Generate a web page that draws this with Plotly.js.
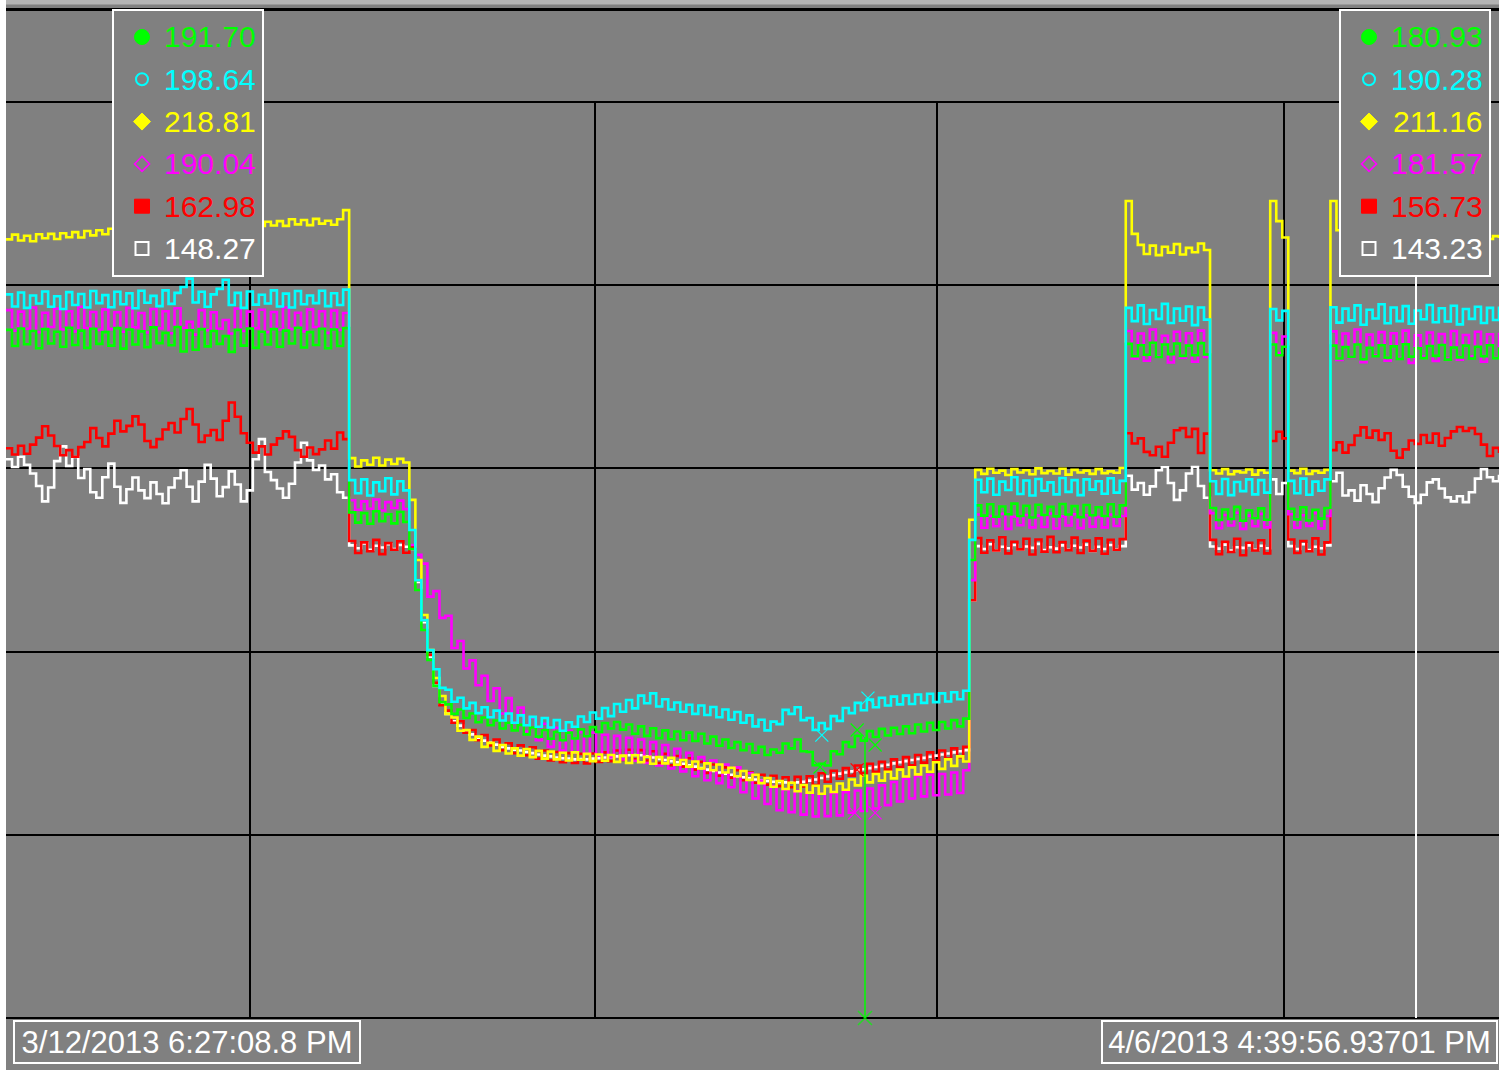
<!DOCTYPE html>
<html>
<head>
<meta charset="utf-8">
<script src="https://cdn.plot.ly/plotly-3.0.1.min.js"></script>
<style>html,body{margin:0;padding:0;background:#fff;}#chart{width:1499px;height:1070px;}</style>
</head>
<body>
<div id="chart"></div>
<script>
// ---------------- DATA ----------------
const startLabel = "3/12/2013 6:27:08.8 PM";
const endLabel = "4/6/2013 4:39:56.93701 PM";
const spanDays = 24.925557;           // time between the two labels, in days
const seriesNames = ["green", "cyan", "yellow", "magenta", "red", "white"];
const seriesColors = ["#00ff00", "#00ffff", "#ffff00", "#ff00ff", "#ff0000", "#ffffff"];
const leftCursorValues = ["191.70", "198.64", "218.81", "190.04", "162.98", "148.27"];
const rightCursorValues = ["180.93", "190.28", "211.16", "181.57", "156.73", "143.23"];
const cursorDay = 23.54;

const yellowVals = [
 212.5,213.8,212.2,213.5,212.0,213.9,212.8,214.0,212.6,214.2,213.1,214.5,213.0,214.8,213.6,215.0,213.9,215.4,214.2,215.6,
 214.5,215.8,214.6,216.0,214.9,216.2,215.0,216.1,215.2,216.4,215.4,216.5,215.5,216.6,215.6,216.8,215.8,216.9,216.0,217.0,216.0,217.1,216.2,217.3,216.3,
 217.5,216.2,218.0,216.6,217.8,216.4,218.1,216.8,217.6,216.5,218.0,220.5,
 152.8,150.5,152.2,151.0,152.9,150.8,152.4,151.2,152.6,151.6,
 141.4,125.0,110.0,100.4,92.8,87.9,83.0,82.0,78.4,78.6,75.9,76.8,74.0,75.1,72.9,74.5,72.2,73.6,71.6,73.4,71.2,72.9,70.8,72.7,70.6,72.4,70.3,72.5,70.5,72.1,70.1,71.9,70.2,71.8,
 69.9,71.6,69.6,71.7,69.8,71.3,69.4,71.2,69.5,71.0,69.1,70.4,68.6,70.0,68.1,69.5,67.6,69.2,67.0,68.3,66.0,67.4,65.0,66.4,64.1,65.5,63.1,64.7,62.5,64.2,61.9,63.6,61.5,63.4,61.2,63.3,
 61.7,64.0,62.3,65.1,63.5,66.1,64.3,66.6,64.8,67.2,65.4,67.8,65.9,68.4,66.5,68.9,67.2,69.8,68.0,70.6,68.8,71.4,70.0,
 136.0,
 149.6,148.5,149.9,148.8,149.4,148.2,149.8,148.9,149.5,148.4,150.0,148.7,149.3,148.6,149.9,148.3,149.6,148.9,149.4,148.5,149.8,148.7,149.2,148.8,150.1,
 223.0,214.0,211.0,208.5,210.8,208.2,210.5,208.9,211.2,208.4,210.2,209.0,211.4,209.6,
 149.5,148.6,149.8,148.4,149.2,148.9,149.7,148.3,149.5,148.8,
 223.0,217.5,213.0,
 149.4,148.7,149.9,148.5,149.3,148.8,149.6,
 223.0,215.0,212.5,210.2,212.0,210.4,211.8,209.9,212.2,210.6,211.5,210.1,212.0,210.8,211.3,209.8,212.1,210.5,211.9,210.0,211.6,210.7,212.3,210.4,211.2,209.9,212.6,213.4,212.9
];

const cyanVals = [
 197.5,194.2,198.0,193.8,197.2,195.0,198.3,194.1,197.0,193.5,198.1,194.6,197.6,193.9,198.4,195.1,197.3,194.0,198.2,194.8,
 197.8,193.7,198.5,195.2,197.1,194.3,198.6,194.9,197.9,199.5,201.8,195.3,198.2,194.1,197.5,199.0,201.5,194.6,197.9,193.8,
 198.3,194.7,197.4,195.0,198.6,194.2,197.7,193.9,198.4,194.8,197.2,195.1,198.5,194.3,197.8,194.6,198.8,
 146.8,143.2,147.0,142.6,146.2,143.8,147.3,142.9,146.5,144.0,
 133.2,119.5,108.6,100.4,95.2,90.1,89.6,86.3,87.4,84.5,86.0,83.2,84.8,82.1,83.9,81.2,83.1,80.6,82.6,79.9,82.2,79.5,81.9,79.3,81.3,78.4,80.7,79.5,82.3,80.8,
 83.4,81.7,84.6,82.4,85.7,83.6,86.8,84.5,88.0,85.9,88.6,85.0,87.0,84.2,86.1,83.6,85.5,83.0,85.3,82.7,84.9,82.1,84.2,81.4,83.5,80.6,82.6,79.6,81.4,78.5,
 80.9,80.2,84.1,83.0,84.8,81.3,81.9,78.6,80.5,78.9,82.4,81.1,84.6,83.2,86.0,84.0,86.9,84.8,87.4,85.3,87.7,85.6,88.0,85.7,88.3,86.0,88.5,86.2,88.6,86.4,88.9,87.0,89.3,
 130.5,
 146.9,143.5,147.2,142.8,146.4,144.1,147.6,143.0,146.7,142.6,147.1,143.9,146.2,142.9,147.4,143.6,146.8,142.7,147.0,144.2,146.5,143.1,147.3,143.4,146.6,
 193.8,190.2,194.5,189.4,193.2,190.8,194.9,189.7,193.6,190.3,194.2,189.1,193.9,190.6,
 146.5,143.0,147.1,142.7,146.3,143.8,147.0,142.9,146.8,143.4,
 193.5,190.4,193.0,
 146.6,143.2,147.2,142.8,146.4,143.9,147.0,
 194.0,189.8,193.6,190.4,194.5,189.2,193.3,190.9,194.8,189.6,193.9,190.2,194.3,189.5,193.1,190.7,194.6,189.9,193.7,190.1,194.4,189.3,193.5,190.8,194.1,189.7,193.8,190.5,194.2
];

const magentaVals = [
 193.2,187.6,192.8,188.1,193.9,187.2,192.5,188.6,193.6,187.9,192.9,187.4,194.1,188.3,192.7,187.8,193.4,188.0,192.6,187.3,
 193.8,188.5,192.4,187.1,193.5,188.2,192.9,186.9,193.7,188.4,190.0,186.5,193.2,187.7,192.6,188.1,190.5,186.8,193.6,187.5,
 192.8,188.3,193.3,187.2,192.7,187.9,193.9,188.0,192.5,187.4,193.4,188.6,192.9,187.0,193.1,187.8,192.4,
 141.3,138.7,141.0,139.0,141.5,138.5,140.8,139.2,141.2,138.9,
 129.1,126.4,124.0,115.0,116.5,109.2,109.8,101.0,102.9,95.4,97.6,90.8,93.4,86.5,90.0,83.1,87.3,80.5,84.7,78.2,82.0,75.8,80.3,74.0,79.2,73.0,78.4,72.4,78.0,72.1,
 77.9,71.6,77.3,71.2,77.0,70.6,76.5,70.2,76.0,69.6,75.3,68.9,74.5,68.1,73.5,67.3,72.4,66.0,71.2,64.9,70.3,64.1,69.2,63.0,68.4,61.6,66.8,59.9,64.8,58.4,
 63.3,56.7,62.4,56.2,62.0,55.5,61.5,55.0,61.2,55.1,61.4,55.3,61.6,56.0,62.1,56.5,62.6,57.2,63.5,58.1,64.4,59.1,65.3,59.9,66.0,60.5,66.4,60.8,66.6,61.0,67.0,61.4,67.6,
 119.5,
 137.4,133.8,137.0,134.2,137.6,133.5,136.8,134.5,137.3,133.9,137.1,134.0,137.7,133.6,136.9,134.4,137.5,133.7,137.2,134.1,136.7,133.9,137.4,134.3,137.0,
 187.5,180.0,186.8,179.4,187.9,180.6,186.2,178.9,187.3,180.2,186.9,179.1,187.6,180.4,
 137.8,133.7,137.3,134.4,137.9,133.5,137.1,134.2,137.6,133.9,
 187.0,181.5,186.0,
 137.5,133.8,137.2,134.3,137.8,133.6,137.0,
 187.4,179.6,186.8,180.3,187.9,179.0,186.5,180.8,187.2,179.4,186.9,180.1,187.6,178.8,186.3,180.5,187.1,179.3,186.7,180.0,187.5,179.7,186.4,180.6,187.3,179.1,186.6,180.2,187.0
];

const greenVals = [
 187.8,183.4,188.2,183.9,187.5,182.8,188.0,184.1,187.3,183.2,188.4,183.7,187.6,182.9,188.1,184.0,187.2,183.5,188.3,182.7,
 187.9,183.8,187.4,183.1,188.5,184.2,187.0,183.6,188.6,181.9,187.7,182.4,188.0,183.3,187.5,184.0,186.1,181.8,187.8,183.5,
 188.2,182.9,187.3,183.8,188.0,183.2,187.6,184.1,188.4,183.0,187.2,183.7,188.1,182.8,187.9,183.4,188.3,
 138.0,135.2,137.8,134.9,138.3,135.6,137.5,135.0,138.1,135.4,
 128.0,116.8,105.9,97.7,90.6,86.2,85.6,83.0,84.2,81.9,83.1,80.7,82.0,79.9,81.2,79.0,80.6,78.5,80.0,77.4,79.3,76.8,78.6,76.2,78.1,75.8,77.9,76.3,78.8,76.9,
 79.4,78.1,80.5,79.0,80.8,78.7,80.1,77.6,79.6,77.0,79.1,76.4,78.5,76.1,78.2,75.8,77.9,75.6,77.6,74.9,76.8,74.3,76.0,73.7,75.3,73.1,74.8,72.4,74.0,71.8,
 73.3,72.4,74.9,73.6,76.0,72.8,72.6,69.0,69.4,68.9,72.8,72.0,75.3,74.0,77.0,75.7,78.3,76.7,78.9,77.1,79.2,77.5,79.6,77.7,80.1,78.2,80.6,78.6,80.8,79.0,81.3,79.6,81.7,
 125.0,
 139.9,137.1,140.2,136.8,139.6,137.5,140.4,137.0,139.8,136.6,140.1,137.3,139.5,136.9,140.3,137.4,139.7,136.7,140.0,137.2,139.4,137.0,140.2,136.8,139.9,
 184.0,180.6,183.6,181.0,184.3,180.4,183.8,181.2,184.1,180.7,183.5,180.9,184.2,181.1,
 139.2,135.9,138.8,136.2,139.5,135.7,138.6,136.4,139.1,136.0,
 183.8,180.9,183.2,
 139.0,136.1,139.4,135.8,138.7,136.3,139.2,
 183.5,180.0,183.1,180.4,183.8,179.8,182.9,180.6,183.6,180.2,183.3,179.9,183.9,180.5,182.8,180.1,183.4,180.7,183.7,179.7,183.0,180.3,183.5,180.0,183.2,180.6,183.6,180.1,183.1
];

const redVals = [
 155.5,153.8,156.2,154.0,156.5,158.4,161.5,159.0,156.1,153.6,155.0,153.2,155.8,157.2,161.0,158.3,156.0,159.5,163.0,160.1,
 161.6,164.2,162.0,157.5,155.8,158.0,160.6,162.4,159.8,163.5,166.2,162.0,157.2,159.0,160.5,157.8,163.0,168.0,164.1,159.6,
 157.0,154.3,156.0,153.8,156.5,158.2,160.1,158.6,155.0,153.2,155.7,153.9,155.2,157.6,155.4,159.8,158.0,
 130.2,126.9,129.8,127.4,130.5,126.6,129.6,127.8,130.1,127.0,
 128.5,119.5,108.6,99.1,91.5,85.4,83.9,80.6,81.0,77.9,78.6,75.8,77.2,74.4,76.0,73.1,75.0,72.3,74.4,71.7,73.9,70.8,73.0,70.3,72.6,69.8,72.3,69.6,72.1,69.5,
 72.2,69.9,72.5,70.1,73.0,70.4,73.2,70.6,73.1,70.3,72.8,69.6,72.1,69.0,71.5,68.6,70.9,67.8,69.9,66.9,69.2,66.1,68.4,65.6,67.6,64.9,67.0,64.2,66.4,63.7,
 66.1,63.3,65.7,63.0,65.8,63.2,66.0,63.6,66.8,64.5,67.5,65.3,68.2,66.1,68.9,66.8,69.4,67.2,69.9,67.8,70.6,68.5,71.2,69.0,71.8,69.7,72.5,70.3,73.0,70.8,73.6,71.2,74.0,
 114.0,
 131.0,127.0,130.4,127.6,131.2,126.8,130.0,127.9,130.8,126.5,130.6,127.3,131.3,127.1,129.9,127.7,131.1,126.9,130.3,127.5,130.9,126.7,130.5,127.8,130.7,
 159.6,156.8,158.2,154.5,153.6,155.9,153.2,157.0,160.4,161.0,158.6,160.8,154.2,159.5,
 130.5,126.6,130.0,127.2,130.8,126.3,129.7,127.6,130.4,126.8,
 157.5,160.0,158.2,
 130.6,126.9,130.2,127.4,130.9,126.5,129.8,
 155.0,157.1,154.3,156.4,159.0,161.2,158.4,160.3,157.8,159.6,154.8,152.9,155.2,157.6,156.7,159.1,157.0,159.5,156.2,158.3,160.1,161.3,160.2,161.0,159.4,156.5,153.4,155.6,154.2
];

const whiteVals = [
 152.5,150.4,153.2,151.0,148.6,145.2,141.0,144.8,152.0,156.0,150.7,153.1,147.4,149.8,143.5,142.0,147.6,151.3,145.0,140.6,
 144.3,147.5,144.0,141.9,146.2,143.0,140.5,144.8,147.3,149.5,145.0,141.0,146.4,151.0,147.2,142.4,144.9,149.2,145.6,141.0,
 144.0,152.5,158.0,149.0,146.8,144.5,142.0,145.8,151.6,157.0,152.2,149.6,150.8,147.0,148.4,143.5,142.0,
 129.0,128.2,129.5,127.8,128.9,128.4,129.3,128.0,129.1,128.6,
 128.0,119.0,108.0,98.6,90.6,85.8,83.0,81.0,79.8,78.4,77.4,76.5,75.7,75.1,74.6,74.0,73.6,73.2,73.0,72.6,72.3,71.9,71.6,71.4,71.1,70.9,70.8,70.6,70.7,70.6,
 70.8,70.9,71.1,71.2,71.4,71.5,71.7,71.8,71.7,71.4,71.1,70.7,70.4,70.1,69.8,69.4,69.0,68.6,68.2,67.8,67.4,67.0,66.7,66.4,66.0,65.7,65.4,65.1,64.9,64.7,
 64.5,64.4,64.3,64.2,64.3,64.5,64.8,65.1,65.5,65.9,66.3,66.7,67.0,67.3,67.6,67.9,68.2,68.5,68.8,69.1,69.5,69.8,70.1,70.4,70.7,71.0,71.3,71.6,71.9,72.2,72.5,72.8,73.1,
 114.0,
 128.8,128.0,129.3,127.6,128.6,128.2,129.1,127.9,128.7,128.3,129.4,127.7,128.5,128.1,129.0,127.8,128.9,128.4,129.2,127.5,128.6,128.0,129.1,127.9,128.8,
 148.0,144.2,146.0,142.8,145.1,149.5,150.3,146.0,141.4,144.0,148.6,150.4,145.2,142.0,
 128.7,128.1,129.2,127.6,128.5,128.3,129.0,127.8,128.9,128.2,
 147.0,143.0,146.0,
 128.8,128.0,129.3,127.7,128.6,128.2,129.0,
 146.5,148.8,142.6,144.0,141.2,145.4,143.0,140.8,144.6,147.5,149.6,148.2,145.0,142.3,140.6,142.8,146.2,147.0,144.5,142.1,141.0,142.4,140.8,143.5,147.2,149.8,147.6,146.5,148.3
];

// event marks (x) and the single green drop-out sample
const cyanMarkDays = [13.62, 14.39];     const cyanMarkVals = [77.2, 87.3];
const greenMarkDays = [13.59, 14.21, 14.51]; const greenMarkVals = [68.5, 78.6, 74.5];
const redMarkDays = [14.21];             const redMarkVals = [67.7];
const magentaMarkDays = [14.17, 14.51];  const magentaMarkVals = [56.0, 56.0];
const greenSpikeDays = [14.341, 14.341]; const greenSpikeVals = [76.7, 0];

// ---------------- CHART ----------------
const W = 1499, H = 1070, L = 6;
const yMin = -14.19, yMax = 277.84;
const px = p => (p - L) / (W - L);
const py = p => 1 - p / H;
const dayOfPx = p => (p - L) / (W - L) * spanDays;

function timeAxis(n) {
  const step = spanDays / (n - 1);
  const out = [];
  for (let i = 0; i < n; i++) out.push(i * step);
  return out;
}

const valsByName = {green: greenVals, cyan: cyanVals, yellow: yellowVals, magenta: magentaVals, red: redVals, white: whiteVals};
const colorByName = {};
seriesNames.forEach((n, k) => colorByName[n] = seriesColors[k]);

const drawOrder = ["white", "red", "magenta", "yellow", "green", "cyan"];
const traces = drawOrder.map(n => ({
  type: "scatter", mode: "lines", name: n,
  x: timeAxis(valsByName[n].length), y: valsByName[n],
  line: {color: colorByName[n], width: 2.6, shape: "hv"},
  hoverinfo: "skip"
}));

function markTrace(xs, ys, color) {
  return {type: "scatter", mode: "markers", x: xs, y: ys, hoverinfo: "skip",
    marker: {symbol: "x-thin", size: 13, color: color, line: {color: color, width: 1.2}}};
}
traces.push(markTrace(cyanMarkDays, cyanMarkVals, colorByName.cyan));
traces.push(markTrace(greenMarkDays, greenMarkVals, colorByName.green));
traces.push(markTrace(redMarkDays, redMarkVals, colorByName.red));
traces.push(markTrace(magentaMarkDays, magentaMarkVals, colorByName.magenta));
traces.push({type: "scatter", mode: "lines+markers", x: greenSpikeDays, y: greenSpikeVals, hoverinfo: "skip",
  line: {color: colorByName.green, width: 1.5},
  marker: {symbol: "x-thin", size: [0, 14], color: colorByName.green, line: {color: colorByName.green, width: 1.5}}});

const shapes = [];
// top strip and frame line
shapes.push({type: "rect", xref: "paper", yref: "paper", x0: 0, x1: 1, y0: py(4.5), y1: 1, fillcolor: "#b4b4b4", line: {width: 0}, layer: "above"});
shapes.push({type: "line", xref: "paper", yref: "paper", x0: 0, x1: 1, y0: py(9.5), y1: py(9.5), line: {color: "#000", width: 3}, layer: "below"});
// vertical grid lines (between 0 and 250)
[250, 595, 937, 1284].forEach(p => shapes.push({type: "line", xref: "x", yref: "y", x0: dayOfPx(p), x1: dayOfPx(p), y0: 0, y1: 250, line: {color: "#000", width: 2}, layer: "below"}));
// cursor line
shapes.push({type: "line", xref: "x", yref: "y", x0: cursorDay, x1: cursorDay, y0: 0, y1: (1018 - 276) / ((1018 - 102) / 250), line: {color: "#fff", width: 2}, layer: "above"});

const annotations = [];
const symbolKinds = ["circleFilled", "circleOpen", "diamondFilled", "diamondOpen", "squareFilled", "squareOpen"];
function addMarker(kind, cx, cy, color) {
  const base = {xref: "paper", yref: "paper", layer: "above"};
  if (kind === "circleFilled") shapes.push(Object.assign({type: "circle", x0: px(cx - 7.5), x1: px(cx + 7.5), y0: py(cy + 7.5), y1: py(cy - 7.5), fillcolor: color, line: {color: color, width: 1}}, base));
  if (kind === "circleOpen") shapes.push(Object.assign({type: "circle", x0: px(cx - 6), x1: px(cx + 6), y0: py(cy + 6), y1: py(cy - 6), fillcolor: "rgba(0,0,0,0)", line: {color: color, width: 2}}, base));
  if (kind === "squareFilled") shapes.push(Object.assign({type: "rect", x0: px(cx - 7.5), x1: px(cx + 7.5), y0: py(cy + 7), y1: py(cy - 7), fillcolor: color, line: {color: color, width: 1}}, base));
  if (kind === "squareOpen") shapes.push(Object.assign({type: "rect", x0: px(cx - 6.5), x1: px(cx + 6.5), y0: py(cy + 6.5), y1: py(cy - 6.5), fillcolor: "rgba(0,0,0,0)", line: {color: color, width: 2}}, base));
  if (kind === "diamondFilled" || kind === "diamondOpen") {
    const r = kind === "diamondFilled" ? 8.5 : 7.5;
    const path = `M ${px(cx)},${py(cy - r)} L ${px(cx + r)},${py(cy)} L ${px(cx)},${py(cy + r)} L ${px(cx - r)},${py(cy)} Z`;
    shapes.push(Object.assign({type: "path", path: path,
      fillcolor: kind === "diamondFilled" ? color : "rgba(0,0,0,0)", line: {color: color, width: kind === "diamondFilled" ? 1 : 1.6}}, base));
  }
}
function addCursorBox(x0, x1, values) {
  shapes.push({type: "rect", xref: "paper", yref: "paper", x0: px(x0), x1: px(x1), y0: py(276), y1: py(10), fillcolor: "#808080", line: {color: "#ffffff", width: 2}, layer: "above"});
  values.forEach((v, k) => {
    const cy = 37 + k * 42.3;
    addMarker(symbolKinds[k], x0 + 29, cy, seriesColors[k]);
    annotations.push({xref: "paper", yref: "paper", x: px(x1 - 5), y: py(cy), xanchor: "right", yanchor: "middle",
      text: v, showarrow: false, font: {family: "Liberation Sans, Arial, sans-serif", size: 30, color: seriesColors[k]}});
  });
}
addCursorBox(113, 263, leftCursorValues);
addCursorBox(1340, 1490, rightCursorValues);

function dateBox(x0, x1, text) {
  annotations.push({xref: "paper", yref: "paper", x: px((x0 + x1) / 2), y: py(1042), xanchor: "center", yanchor: "middle",
    text: text, showarrow: false, width: x1 - x0 - 4, height: 40, borderpad: 0, borderwidth: 2,
    bordercolor: "#ffffff", bgcolor: "#808080", align: "center",
    font: {family: "Liberation Sans, Arial, sans-serif", size: 31, color: "#ffffff"}});
}
dateBox(13, 361, startLabel);
dateBox(1101, 1498, endLabel);

const layout = {
  width: W, height: H,
  margin: {l: L, r: 0, t: 0, b: 0, pad: 0},
  paper_bgcolor: "#ffffff", plot_bgcolor: "#808080",
  showlegend: false,
  xaxis: {range: [0, spanDays], showgrid: false, zeroline: false, showticklabels: false, showline: false, ticks: "", fixedrange: true},
  yaxis: {range: [yMin, yMax], tickvals: [0, 50, 100, 150, 200, 250], showgrid: true, gridcolor: "#000000", gridwidth: 2,
          zeroline: false, showticklabels: false, showline: false, ticks: "", fixedrange: true},
  shapes: shapes, annotations: annotations
};
Plotly.newPlot("chart", traces, layout, {displayModeBar: false, staticPlot: true});
</script>
</body>
</html>
